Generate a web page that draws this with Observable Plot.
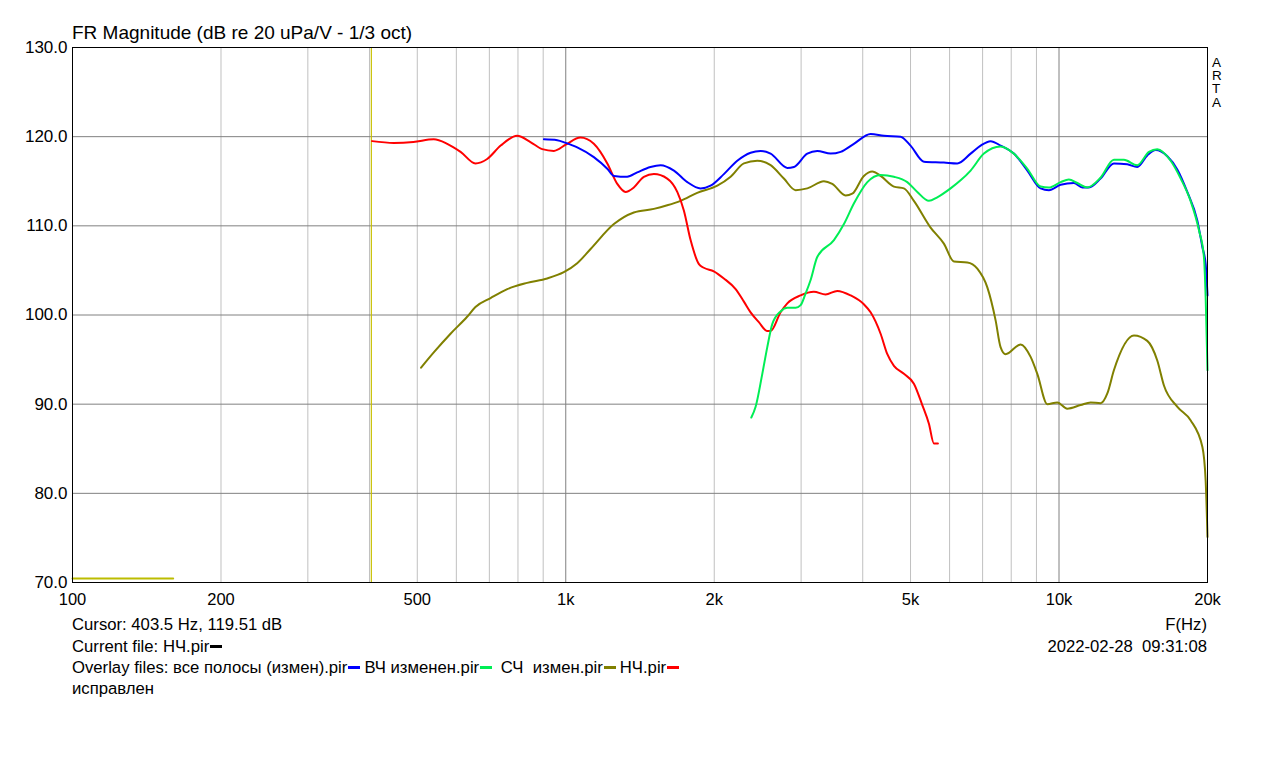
<!DOCTYPE html>
<html>
<head>
<meta charset="utf-8">
<script src="https://cdn.jsdelivr.net/npm/d3@7"></script>
<script src="https://cdn.jsdelivr.net/npm/@observablehq/plot@0.6"></script>
<style>
  body { margin:0; background:#fff; }
  #wrap { position:relative; width:1279px; height:768px; font-family:"Liberation Sans", Arial, sans-serif; color:#000; }
  .t { position:absolute; font-size:16.7px; line-height:18px; white-space:pre; }
  .a { position:absolute; left:1212px; font-size:13.5px; line-height:13px; }
  .dash { display:inline-block; width:12px; height:3px; vertical-align:middle; margin-left:1px; margin-right:4px; position:relative; top:-1px; }
  #chart { position:absolute; left:0; top:0; }
</style>
</head>
<body>
<div id="wrap">
  <div id="chart"></div>
  <div class="t" style="left:72px;top:23px;font-size:19px;line-height:19px;">FR Magnitude (dB re 20 uPa/V - 1/3 oct)</div>
  <div class="a" style="top:55.5px;">A</div>
  <div class="a" style="top:68.9px;">R</div>
  <div class="a" style="top:82.3px;">T</div>
  <div class="a" style="top:95.7px;">A</div>
  <div class="t" style="left:72px;top:616px;">Cursor: 403.5 Hz, 119.51 dB</div>
  <div class="t" style="right:72px;top:616px;text-align:right;">F(Hz)</div>
  <div class="t" style="left:72px;top:638px;">Current file: НЧ.pir<span class="dash" style="background:#000"></span></div>
  <div class="t" style="right:72px;top:638px;text-align:right;">2022-02-28  09:31:08</div>
  <div class="t" style="left:72px;top:659px;">Overlay files: все полосы (измен).pir<span class="dash" style="background:#0000ff"></span>ВЧ изменен.pir<span class="dash" style="background:#00ee55"></span> СЧ  измен.pir<span class="dash" style="background:#808000"></span>НЧ.pir<span class="dash" style="background:#ff0000"></span></div>
  <div class="t" style="left:72px;top:680px;">исправлен</div>
</div>
<script>
// Axis ticks
const xTicks = [100, 200, 500, 1000, 2000, 5000, 10000, 20000];
const xTickLabels = ["100", "200", "500", "1k", "2k", "5k", "10k", "20k"];
const yTicks = [70, 80, 90, 100, 110, 120, 130];
const minorFreqs = [200, 300, 400, 500, 600, 700, 800, 900, 2000, 3000, 4000, 5000, 6000, 7000, 8000, 9000];
const majorFreqs = [1000, 10000];
const gridDb = [80, 90, 100, 110, 120];
const cursorFreq = 403.5;
const currentFreq = [100, 160];
const currentDb = [70.45, 70.45];

// все полосы (измен).pir — blue
const blueFreq = [903, 961, 1000, 1055, 1140, 1214, 1252, 1332, 1396, 1485, 1557, 1657, 1764, 1876, 1966, 2092, 2227, 2370, 2483, 2602, 2813, 2901, 3088, 3235, 3443, 3608, 3838, 4150, 4416, 4773, 5000, 5322, 5842, 6219, 6619, 6935, 7267, 7612, 8099, 8626, 9177, 9540, 10075, 10720, 11150, 11500, 12140, 12920, 13750, 14410, 15100, 15700, 16580, 17380, 18200, 19070, 19530, 19830, 20000];
const blueDb = [119.7, 119.6, 119.3, 118.8, 117.7, 116.4, 115.6, 115.5, 116.0, 116.6, 116.8, 116.2, 114.9, 114.2, 114.5, 115.8, 117.3, 118.2, 118.4, 118.1, 116.5, 116.6, 118.1, 118.4, 118.1, 118.3, 119.2, 120.3, 120.1, 120.0, 119.0, 117.2, 117.1, 117.0, 118.1, 119.0, 119.5, 119.0, 118.1, 116.2, 114.2, 114.0, 114.6, 114.8, 114.3, 114.3, 115.3, 117.0, 116.9, 116.6, 117.9, 118.5, 117.8, 116.3, 113.8, 110.6, 107.6, 105.7, 102.2];

// ВЧ изменен.pir — green
const greenFreq = [2378, 2426, 2503, 2562, 2623, 2726, 2813, 2924, 2993, 3063, 3135, 3235, 3497, 3664, 3838, 4087, 4348, 4627, 4924, 5161, 5447, 5664, 6028, 6316, 6619, 7043, 7612, 8099, 8626, 9177, 9540, 10075, 10470, 10890, 11410, 12140, 12920, 13540, 14410, 15220, 15820, 16840, 17650, 18480, 19220, 19670, 19830, 20000];
const greenDb = [88.5, 89.7, 93.4, 96.4, 99.0, 100.4, 100.8, 100.8, 101.1, 102.4, 103.9, 106.5, 108.4, 110.2, 112.5, 114.9, 115.7, 115.5, 114.9, 113.8, 112.8, 113.2, 114.2, 115.1, 116.2, 118.1, 118.9, 118.1, 116.4, 114.4, 114.3, 114.9, 115.2, 114.8, 114.3, 115.4, 117.4, 117.4, 116.8, 118.3, 118.6, 117.3, 115.3, 112.8, 109.5, 106.5, 102.0, 93.8];

// СЧ измен.pir — olive
const oliveFreq = [509, 540, 584, 631, 656, 704, 761, 835, 917, 991, 1055, 1123, 1252, 1374, 1509, 1606, 1709, 1847, 2029, 2159, 2297, 2445, 2602, 2768, 2924, 3088, 3337, 3470, 3693, 3809, 4022, 4182, 4348, 4627, 4848, 5079, 5491, 5842, 6122, 6518, 6829, 7156, 7438, 7612, 7793, 8358, 8759, 9036, 9469, 9921, 10390, 11060, 11590, 12140, 12530, 12920, 14190, 15100, 15820, 16320, 17380, 18480, 19530, 19830, 20000];
const oliveDb = [94.1, 95.8, 97.9, 99.8, 100.9, 101.9, 102.9, 103.6, 104.1, 104.8, 105.8, 107.4, 110.2, 111.5, 111.9, 112.3, 112.8, 113.7, 114.5, 115.5, 117.0, 117.3, 116.8, 115.3, 114.0, 114.2, 115.0, 114.7, 113.4, 113.6, 115.6, 116.1, 115.6, 114.4, 114.2, 112.8, 109.8, 108.0, 106.0, 105.9, 105.2, 103.1, 99.4, 96.4, 95.6, 96.7, 95.3, 93.4, 90.0, 90.2, 89.5, 89.9, 90.2, 90.1, 91.2, 93.8, 97.7, 97.1, 94.9, 92.1, 89.7, 88.2, 85.2, 81.4, 75.1];

// НЧ.pir — red
const redFreq = [405, 448, 491, 540, 575, 612, 656, 693, 738, 797, 848, 896, 946, 1000, 1071, 1140, 1214, 1272, 1322, 1374, 1440, 1509, 1606, 1683, 1736, 1791, 1862, 1905, 1996, 2092, 2210, 2297, 2370, 2463, 2562, 2602, 2726, 2813, 2993, 3184, 3363, 3552, 3779, 4021, 4150, 4348, 4487, 4627, 4848, 5079, 5282, 5448, 5577, 5682];
const redDb = [119.5, 119.3, 119.4, 119.7, 119.2, 118.3, 117.0, 117.5, 119.0, 120.1, 119.4, 118.6, 118.4, 119.1, 119.9, 119.2, 117.0, 114.7, 113.8, 114.3, 115.5, 115.8, 115.3, 113.8, 111.7, 108.4, 105.7, 105.3, 104.9, 104.1, 102.9, 101.5, 100.3, 99.2, 98.2, 98.2, 100.3, 101.3, 102.2, 102.6, 102.3, 102.7, 102.2, 101.2, 100.3, 97.9, 95.6, 94.3, 93.4, 92.3, 89.9, 87.8, 85.6, 85.6];

const seriesDefs = [
  {name: "СЧ", freq: oliveFreq, db: oliveDb, color: "#808000"},
  {name: "НЧ", freq: redFreq, db: redDb, color: "#ff0000"},
  {name: "все", freq: blueFreq, db: blueDb, color: "#0000ff"},
  {name: "ВЧ", freq: greenFreq, db: greenDb, color: "#00ee55"}
];

const lineMarks = seriesDefs.map(s =>
  Plot.line(s.freq.map((f, i) => ({f, db: s.db[i]})), {
    x: "f", y: "db", stroke: s.color, strokeWidth: 2, curve: "monotone-x"
  })
);

const chart = Plot.plot({
  width: 1279,
  height: 620,
  marginLeft: 72,
  marginRight: 72,
  marginTop: 47,
  marginBottom: 38,
  style: {fontFamily: "Liberation Sans, Arial, sans-serif", fontSize: "16px", color: "#000", background: "#fff"},
  x: {type: "log", domain: [100, 20000]},
  y: {domain: [70, 130]},
  marks: [
    Plot.ruleX(minorFreqs, {stroke: "#c0c0c0", strokeWidth: 1}),
    Plot.ruleX(majorFreqs, {stroke: "#808080", strokeWidth: 1}),
    Plot.ruleY(gridDb, {stroke: "#808080", strokeWidth: 1}),
    Plot.ruleX([cursorFreq], {stroke: "#c8c000", strokeWidth: 1.2}),
    Plot.line(currentFreq.map((f, i) => ({f, db: currentDb[i]})), {x: "f", y: "db", stroke: "#bcbc00", strokeWidth: 2}),
    ...lineMarks,
    Plot.frame({stroke: "#000", strokeWidth: 1}),
    Plot.axisY({ticks: yTicks, tickFormat: d => d.toFixed(1), tickSize: 0, tickPadding: 5, label: null, fontSize: 17}),
    Plot.axisX({ticks: xTicks, tickFormat: d => xTickLabels[xTicks.indexOf(d)], tickSize: 0, tickPadding: 11, label: null, fontSize: 16.5})
  ]
});
document.getElementById("chart").appendChild(chart);
</script>
</body>
</html>
